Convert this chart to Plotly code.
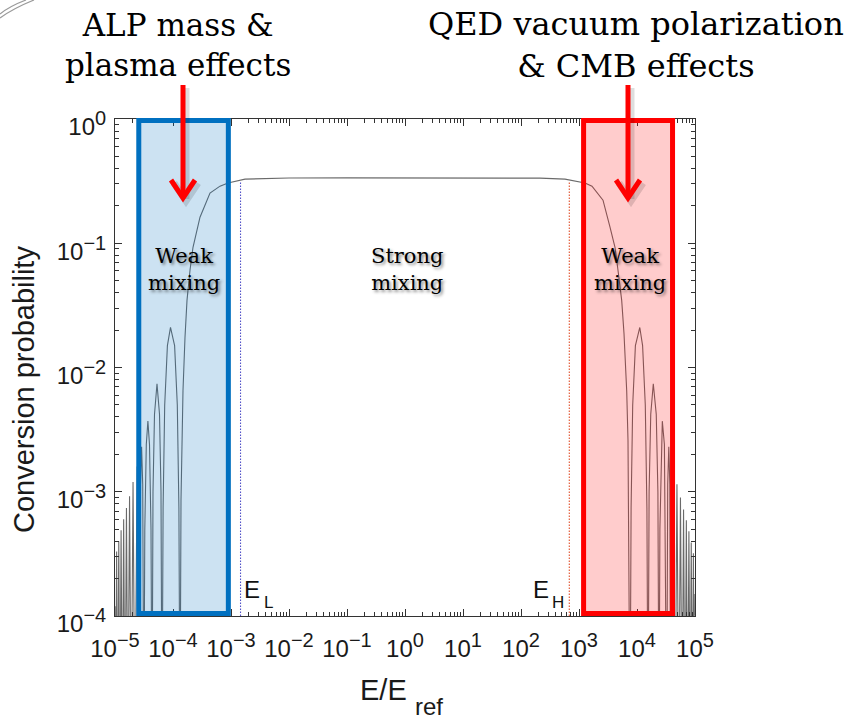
import plotly.graph_objects as go

# Photon-ALP conversion probability versus normalised energy E/E_ref.
# Low-energy side: oscillating lobes that rise into the strong-mixing plateau.
energy_low = [1.000e-5, 1.024e-5, 1.066e-5, 1.109e-5, 1.161e-5, 1.215e-5, 1.274e-5,
              1.336e-5, 1.410e-5, 1.487e-5, 1.576e-5, 1.669e-5, 1.782e-5, 1.902e-5,
              2.047e-5, 2.203e-5, 2.409e-5, 2.634e-5, 2.752e-5, 2.874e-5, 3.004e-5,
              3.138e-5, 3.264e-5, 3.465e-5, 3.692e-5, 3.934e-5, 4.175e-5, 4.344e-5,
              4.520e-5, 4.798e-5, 5.298e-5, 5.851e-5, 6.210e-5, 6.461e-5, 6.750e-5,
              7.192e-5, 8.007e-5, 9.056e-5, 1.066e-4, 1.186e-4, 1.264e-4, 1.320e-4,
              1.374e-4, 1.429e-4, 1.487e-4, 1.610e-4, 1.743e-4, 1.964e-4, 2.212e-4,
              2.921e-4, 4.345e-4, 6.462e-4, 8.877e-4, 1.743e-3, 4.703e-3]
prob_low = [1.2e-4, 1e-5, 3.3e-4, 1e-5, 4.0e-4, 1e-5, 4.9e-4,
            1e-5, 6.0e-4, 1e-5, 7.4e-4, 1e-5, 9.2e-4, 1e-5,
            1.2e-3, 1e-5, 1.6e-3, 1e-5, 1.15e-3, 2.3e-3, 1.15e-3,
            1e-5, 5.0e-4, 2.4e-3, 3.7e-3, 2.4e-3, 5.0e-4, 1e-5,
            1.0e-3, 4.2e-3, 7.4e-3, 4.2e-3, 1.0e-3, 1e-5, 7.4e-4,
            5.0e-3, 1.5e-2, 2.1e-2, 1.5e-2, 5.0e-3, 7.4e-4, 1e-5,
            8.5e-4, 3.74e-3, 6.5e-3, 1.75e-2, 3.47e-2, 6.06e-2, 9.28e-2,
            0.162, 0.253, 0.288, 0.305, 0.328, 0.334]

# Strong-mixing plateau.
energy_mid = [1e-2, 1e-1, 1e0, 1e1, 1e2]
prob_mid = [0.335, 0.336, 0.336, 0.336, 0.335]

# High-energy side: fall-off from the plateau into oscillating lobes.
energy_high = [212.6, 573.7, 1269, 1675, 2593, 3424, 4175, 4703, 5447, 5969,
               6643, 6995, 7336, 7573, 7911, 8431, 9384, 11170, 12490, 13900,
               14820, 15480, 16170, 17260, 19100, 21470, 22930, 23950, 24820, 26240,
               27310, 29680, 31370, 32520, 33840, 35340, 36770, 37960, 41510, 45390,
               48850, 52560, 56130, 59930, 63470, 67230, 70930, 74840, 78480, 82330,
               86170, 90200, 93850, 97650, 100000]
prob_high = [0.334, 0.328, 0.305, 0.288, 0.222, 0.135, 0.0928, 0.0606, 0.0347, 0.0188,
             6.5e-3, 2.58e-3, 5.8e-4, 1e-5, 7.4e-4, 5.0e-3, 1.5e-2, 2.1e-2, 1.5e-2, 5.0e-3,
             7.4e-4, 1e-5, 1.0e-3, 4.2e-3, 7.4e-3, 4.2e-3, 1.0e-3, 1e-5, 5.0e-4, 2.4e-3,
             3.7e-3, 2.4e-3, 5.0e-4, 1e-5, 1.15e-3, 2.3e-3, 1.15e-3, 1e-5, 1.6e-3, 1e-5,
             1.15e-3, 1e-5, 9.0e-4, 1e-5, 7.2e-4, 1e-5, 5.9e-4, 1e-5, 4.8e-4, 1e-5,
             3.9e-4, 1e-5, 3.2e-4, 1e-5, 1.5e-4]

# Weak-mixing energy bands and the strong-mixing limits E_L, E_H.
weak_band_low = [2.57e-5, 9.0e-4]
weak_band_high = [1.2e3, 4.1e4]
e_low_limit = 1.46e-3
e_high_limit = 6.8e2
limit_line_top = 0.31

x_tick_vals = [1e-5, 1e-4, 1e-3, 1e-2, 1e-1, 1e0, 1e1, 1e2, 1e3, 1e4, 1e5]
x_tick_exp = ["\u22125", "\u22124", "\u22123", "\u22122", "\u22121", "0", "1", "2", "3", "4", "5"]
y_tick_vals = [1e-4, 1e-3, 1e-2, 1e-1, 1e0]
y_tick_exp = ["\u22124", "\u22123", "\u22122", "\u22121", "0"]

# ---- page geometry (pixels) ----
FIG_W, FIG_H = 850, 719
L, T, W, H = 115, 119, 580, 497


def px(x):
    return (x - L) / W


def py(y):
    return (T + H - y) / H


def power_label(exp):
    return f"10<sup><span style='font-size:20px'>{exp}</span></sup>"


energy = energy_low + energy_mid + energy_high
prob = prob_low + prob_mid + prob_high

minor_x = [m * 10.0 ** k for k in range(-5, 5) for m in range(2, 10)]
minor_y = [m * 10.0 ** k for k in range(-4, 0) for m in range(2, 10)]

fig = go.Figure()

fig.add_trace(go.Scatter(
    x=energy, y=prob, mode="lines",
    line=dict(color="#6a6a6a", width=1.1),
    hoverinfo="skip", showlegend=False,
))
fig.add_trace(go.Scatter(
    x=[e_low_limit, e_low_limit], y=[1e-4, limit_line_top], mode="lines",
    line=dict(color="#5252c8", width=1.1, dash="1.5px,1.5px"),
    hoverinfo="skip", showlegend=False,
))
fig.add_trace(go.Scatter(
    x=[e_high_limit, e_high_limit], y=[1e-4, limit_line_top], mode="lines",
    line=dict(color="#e0502c", width=1.1, dash="1.5px,1.5px"),
    hoverinfo="skip", showlegend=False,
))

tick_font = dict(family="Liberation Sans, Arial, sans-serif", size=24, color="#1a1a1a")

axis_common = dict(
    type="log", showgrid=False, zeroline=False,
    showline=True, linecolor="#333333", linewidth=1, mirror="ticks",
    ticks="inside", ticklen=7, tickwidth=1, tickcolor="#333333",
    tickfont=tick_font, tickangle=0,
)

fig.update_xaxes(
    range=[-5, 5], tickmode="array", tickvals=x_tick_vals,
    ticktext=[power_label(e) for e in x_tick_exp],
    minor=dict(tickmode="array", tickvals=minor_x, ticks="inside", ticklen=4,
               tickcolor="#333333", showgrid=False),
    ticklabelstandoff=11,
    **axis_common,
)
fig.update_yaxes(
    range=[-4, 0], tickmode="array", tickvals=y_tick_vals,
    ticktext=[power_label(e) for e in y_tick_exp],
    minor=dict(tickmode="array", tickvals=minor_y, ticks="inside", ticklen=4,
               tickcolor="#333333", showgrid=False),
    ticklabelstandoff=3, ticklabelshift=8,
    **axis_common,
)

shapes = []
# weak-mixing bands
shapes.append(dict(type="rect", xref="x", yref="paper",
                   x0=weak_band_low[0], x1=weak_band_low[1], y0=py(613.5), y1=py(120.5),
                   line=dict(color="#0070C0", width=5),
                   fillcolor="rgba(0,112,192,0.2)", layer="above"))
shapes.append(dict(type="rect", xref="x", yref="paper",
                   x0=weak_band_high[0], x1=weak_band_high[1], y0=py(613.5), y1=py(120.5),
                   line=dict(color="#FF0000", width=5),
                   fillcolor="rgba(255,0,0,0.2)", layer="above"))


def arrow_path(xc, y_top, y_tip, half_w, head_h):
    shaft = f"M{px(xc)},{py(y_top)} L{px(xc)},{py(y_tip - 2)}"
    head = (f"M{px(xc - half_w)},{py(y_tip - head_h)} L{px(xc)},{py(y_tip)} "
            f"L{px(xc + half_w)},{py(y_tip - head_h)}")
    return shaft, head


for xc in (183, 628):
    s_sh, h_sh = arrow_path(xc + 3, 88, 201, 12, 18)
    for p in (s_sh, h_sh):
        shapes.append(dict(type="path", xref="paper", yref="paper", path=p,
                           line=dict(color="rgba(0,0,0,0.13)", width=7),
                           layer="above"))
    shaft, head = arrow_path(xc, 85, 198, 12, 18)
    for p in (shaft, head):
        shapes.append(dict(type="path", xref="paper", yref="paper", path=p,
                           line=dict(color="#FF0000", width=5), layer="above"))

# page-curl flourish in the top-left corner
for off in (0, 4):
    shapes.append(dict(type="path", xref="paper", yref="paper",
                       path=(f"M{px(0)},{py(14 + off)} Q{px(10 + off)},{py(6 + off / 2)} "
                             f"{px(26 + off * 2)},{py(0)}"),
                       line=dict(color="#9a9a9a", width=1.2), layer="above"))

serif = "DejaVu Serif, Liberation Serif, serif"
sans = "Liberation Sans, Arial, sans-serif"
shadow = "2px 2px 3px rgba(0,0,0,0.45)"

annotations = [
    dict(text="ALP mass &amp;<br>plasma effects", x=px(178), y=py(45),
         font=dict(family=serif, size=31, color="#000000")),
    dict(text="QED vacuum polarization<br>&amp; CMB effects", x=px(636), y=py(45),
         font=dict(family=serif, size=32, color="#000000")),
    dict(text="Weak<br>mixing", x=px(184), y=py(269),
         font=dict(family=serif, size=21, color="#000000", shadow=shadow)),
    dict(text="Strong<br>mixing", x=px(407), y=py(269),
         font=dict(family=serif, size=21, color="#000000", shadow=shadow)),
    dict(text="Weak<br>mixing", x=px(630), y=py(269),
         font=dict(family=serif, size=21, color="#000000", shadow=shadow)),
    dict(text="E", x=px(252), y=py(589), font=dict(family=sans, size=24, color="#111111")),
    dict(text="L", x=px(268.5), y=py(602), font=dict(family=sans, size=17, color="#111111")),
    dict(text="E", x=px(541), y=py(589), font=dict(family=sans, size=24, color="#111111")),
    dict(text="H", x=px(558), y=py(602), font=dict(family=sans, size=17, color="#111111")),
    dict(text="Conversion probability", x=px(24), y=py(390), textangle=-90,
         font=dict(family=sans, size=29, color="#1a1a1a")),
    dict(text="E/E", x=px(383), y=py(689.5), font=dict(family=sans, size=29, color="#1a1a1a")),
    dict(text="ref", x=px(429), y=py(706.5), font=dict(family=sans, size=24, color="#1a1a1a")),
]
for a in annotations:
    a.update(xref="paper", yref="paper", showarrow=False,
             xanchor="center", yanchor="middle")

fig.update_layout(
    width=FIG_W, height=FIG_H, autosize=False,
    margin=dict(l=L, r=FIG_W - L - W, t=T, b=FIG_H - T - H),
    paper_bgcolor="#ffffff", plot_bgcolor="#ffffff",
    shapes=shapes, annotations=annotations, showlegend=False,
)

fig.write_html("out.html")
